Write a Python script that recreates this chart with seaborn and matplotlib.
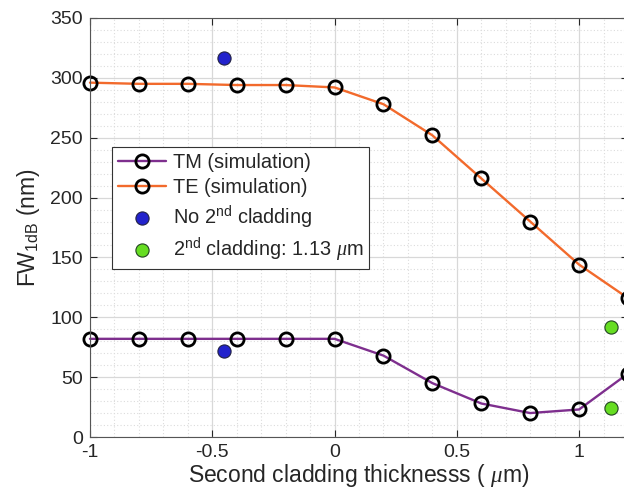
import numpy as np
import pandas as pd
import matplotlib
matplotlib.use("Agg")
import matplotlib.pyplot as plt
import seaborn as sns
from matplotlib.ticker import MultipleLocator

# Data
thickness = [-1.0, -0.8, -0.6, -0.4, -0.2, 0.0, 0.2, 0.4, 0.6, 0.8, 1.0, 1.2]
tm_sim = [82, 82, 82, 82, 82, 82, 68, 45, 28, 20, 23, 53]
te_sim = [296, 295, 295, 294, 294, 292, 278, 252, 216, 180, 144, 116]
no_clad_x = [-0.45, -0.45]
no_clad_y = [317, 72]
clad_x = [1.13, 1.13]
clad_y = [92, 24]

sns.set_theme(style="white")
plt.rcParams['font.family'] = ['Liberation Sans', 'DejaVu Sans']
plt.rcParams['mathtext.fontset'] = 'custom'
plt.rcParams['mathtext.rm'] = 'Liberation Sans'
plt.rcParams['mathtext.it'] = 'Liberation Serif:italic'
plt.rcParams['mathtext.sf'] = 'Liberation Sans'

fig = plt.figure(figsize=(6.24, 4.99), dpi=100)
ax = fig.add_axes([90/624, 1-437/499, (628-90)/624, (437-18)/499])

purple = '#7E2F8E'
orange = '#F26A2C'
blue = '#2222CC'
green = '#66DD22'

df_tm = pd.DataFrame({'x': thickness, 'y': tm_sim})
df_te = pd.DataFrame({'x': thickness, 'y': te_sim})

mk = dict(marker='o', markersize=9.5, markerfacecolor='none',
          markeredgecolor='black', markeredgewidth=2.0)
sns.lineplot(data=df_tm, x='x', y='y', ax=ax, color=purple, lw=1.7,
             label='TM (simulation)', clip_on=False, **mk)
sns.lineplot(data=df_te, x='x', y='y', ax=ax, color=orange, lw=1.7,
             label='TE (simulation)', clip_on=False, **mk)
sns.scatterplot(x=no_clad_x, y=no_clad_y, ax=ax, color=blue, s=90,
                edgecolor='#222244', linewidth=0.8, zorder=5,
                label='No 2$^{\\rm nd}$ cladding')
sns.scatterplot(x=clad_x, y=clad_y, ax=ax, color=green, s=90,
                edgecolor='#224422', linewidth=0.8, zorder=5,
                label='2$^{\\rm nd}$ cladding: 1.13 $\\mu$m')

ax.set_xlim(-1, 1.2)
ax.set_ylim(0, 350)
ax.set_xticks([-1, -0.5, 0, 0.5, 1])
ax.set_xticklabels(['-1', '-0.5', '0', '0.5', '1'])
ax.set_yticks(range(0, 351, 50))
ax.xaxis.set_minor_locator(MultipleLocator(0.1))
ax.yaxis.set_minor_locator(MultipleLocator(10))
ax.grid(True, which='major', color='#d8d8d8', lw=0.9, ls='-')
ax.grid(True, which='minor', color='#dcdcdc', lw=0.8, ls=(0, (1, 2)))
ax.set_axisbelow(True)
ax.tick_params(which='major', direction='in', length=5, width=0.8,
               top=True, right=True, labelsize=14, colors='#262626',
               pad=5, bottom=True, left=True)
ax.tick_params(which='minor', length=0)
for s in ax.spines.values():
    s.set_color('#555555')
    s.set_linewidth(0.8)

ax.set_xlabel('Second cladding thicknesss ( $\\mu$m)', fontsize=16.5, color='#262626', labelpad=1)
ax.set_ylabel('FW$_{\\rm 1dB}$ (nm)', fontsize=16.5, color='#262626', labelpad=6)

leg = ax.legend(loc='upper left', bbox_to_anchor=(0.041, 0.692), borderaxespad=0,
                fontsize=14.4, frameon=True, fancybox=False, edgecolor='#333333',
                framealpha=1, handlelength=2.4, handletextpad=0.35,
                labelspacing=0.3, borderpad=0.3)
leg.get_frame().set_linewidth(0.8)

fig.savefig('out.png', dpi=100)
